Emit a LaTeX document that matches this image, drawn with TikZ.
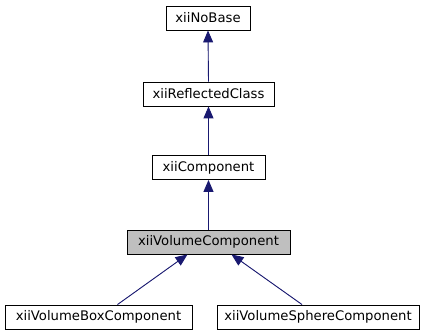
\documentclass[tikz,border=0pt]{standalone}
\usepackage{fontspec}
\setmainfont{DejaVu Sans}
\usetikzlibrary{arrows.meta,positioning}

\begin{document}
\begin{tikzpicture}[x=1pt,y=-1pt,
    cls/.style={draw=black,line width=0.9pt,fill=white,inner sep=0pt,
                minimum height=24pt,font=\fontsize{13.2}{15}\selectfont},
    cur/.style={cls,fill=black!25},
    inh/.style={-{Triangle[length=12pt,width=10pt]},draw={rgb,255:red,25;green,25;blue,112},
                fill={rgb,255:red,25;green,25;blue,112},line width=0.9pt}]

    \useasboundingbox (0,0) rectangle (429,336);

    % class boxes
    \node [cls,minimum width=84pt]  (nobase) at (208,18)     {xiiNoBase};
    \node [cls,minimum width=131pt] (refl)   at (208.5,94)   {xiiReflectedClass};
    \node [cls,minimum width=113pt] (comp)   at (208.5,167.5){xiiComponent};
    \node [cur,minimum width=163pt] (vol)    at (208.5,242)  {xiiVolumeComponent};
    \node [cls,minimum width=187pt] (box)    at (98.5,317)   {xiiVolumeBoxComponent};
    \node [cls,minimum width=202pt] (sphere) at (318,317)    {xiiVolumeSphereComponent};

    % inheritance
    \draw [inh] (refl.north) -- (nobase.south);
    \draw [inh] (comp.north) -- (refl.south);
    \draw [inh] (vol.north)  -- (comp.south);
    \draw [inh] ([xshift=19pt]box.north) -- ([xshift=-21pt]vol.south);
    \draw [inh] ([xshift=-16pt]sphere.north) -- ([xshift=23pt]vol.south);

\end{tikzpicture}
\end{document}
